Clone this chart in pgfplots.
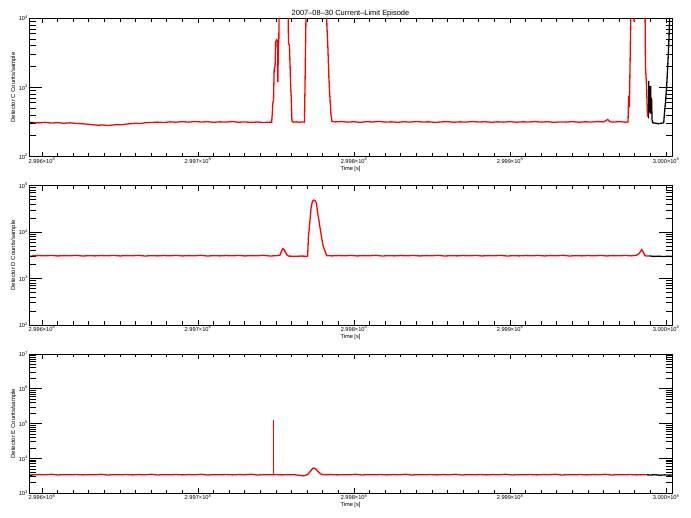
\documentclass[border=0pt]{standalone}
\usepackage{fontspec}
\setmainfont{Liberation Sans}
\usepackage{pgfplots}
\pgfplotsset{compat=1.18}
\newcommand{\tfont}{\fontsize{5.7}{6}\selectfont}
\newcommand{\xlabs}{2.996×10\textsuperscript{8},2.997×10\textsuperscript{8},2.998×10\textsuperscript{8},2.999×10\textsuperscript{8},3.000×10\textsuperscript{8}}
\begin{document}
\begin{tikzpicture}
\path[use as bounding box] (0bp,0bp) rectangle (691bp,518bp);
% ---------------- Top panel: Detector C
\begin{axis}[scale only axis, width=643bp, height=138.4bp, anchor=south west, at={(29bp,361.3bp)},
  xmin=-0.0833, xmax=4.038, ymode=log, ymin=100, ymax=10000,
  axis line style={line width=0.9bp},
  tick style={line width=0.8bp, black}, tick align=inside,
  xtick={0,1,2,3,4}, minor x tick num=9, xticklabels/.expand once=\xlabs,
  major tick length=13bp, minor tick length=6.5bp,
  xtick style={/pgfplots/major tick length=5bp, /pgfplots/minor tick length=3.5bp},
  xticklabel style={font=\tfont, inner sep=1bp},
  yticklabel style={font=\tfont, inner sep=1bp},
  xlabel={Time [s]}, xlabel style={font=\tfont, at={(axis description cs:0.5,-0.062)}, anchor=north, inner sep=0.5bp},
  ylabel style={font=\fontsize{6}{7}\selectfont, at={(axis description cs:-0.0241,0.5)}, anchor=center},
  ytick={100,1000,10000}, yticklabels={10\textsuperscript{2},10\textsuperscript{3},10\textsuperscript{4}},
  minor ytick={200,300,400,500,600,700,800,900,2000,3000,4000,5000,6000,7000,8000,9000},
  ylabel={Detector C Counts/sample},
  every axis title shift=0pt,
  title={2007–08–30 Current–Limit Episode},
  title style={font=\fontsize{7.5}{8}\selectfont, at={(axis description cs:0.5,1)}, anchor=south, inner sep=1bp}]
\addplot[black, line width=1.3bp] table {
-0.083 310
-0.058 312
};
\addplot[black, line width=1.3bp] table {
3.880 400
3.886 380
3.889 1250
3.892 500
3.895 950
3.898 420
3.901 1050
3.904 460
3.907 700
3.910 340
3.914 310
3.93 305
3.95 300
3.97 304
3.985 310
3.989 410
3.998 680
4.004 1070
4.011 2090
4.017 4170
4.021 7200
4.026 30000
4.038 30000
};
\addplot[red, line width=1.3bp] table {
-0.058 312
-0.02 308
0.02 314
0.06 306
0.10 311
0.14 304
0.18 309
0.22 302
0.26 299
0.30 294
0.33 289
0.36 285
0.39 287
0.42 282
0.45 286
0.48 291
0.51 289
0.54 296
0.57 300
0.60 304
0.63 301
0.66 309
0.70 312
0.74 316
0.78 311
0.82 319
0.86 315
0.90 321
0.94 316
0.98 322
1.02 317
1.06 320
1.10 314
1.14 319
1.18 316
1.22 322
1.26 315
1.30 318
1.34 313
1.38 317
1.42 312
1.46 316
1.472 314
1.476 420
1.479 600
1.484 640
1.488 1800
1.494 2100
1.498 4600
1.505 4900
1.510 4700
1.512 1200
1.515 4300
1.518 4800
1.521 30000
1.576 30000
1.580 4300
1.586 4100
1.590 2100
1.594 1000
1.598 680
1.602 330
1.61 315
1.63 319
1.65 314
1.67 318
1.682 316
1.685 800
1.690 5200
1.695 30000
1.822 30000
1.826 7800
1.832 4000
1.839 1350
1.846 680
1.852 410
1.858 325
1.88 318
1.92 322
1.96 316
2.00 320
2.04 314
2.08 321
2.12 317
2.16 323
2.20 316
2.24 319
2.28 314
2.32 320
2.36 316
2.40 322
2.44 317
2.48 319
2.52 313
2.56 318
2.60 321
2.64 315
2.68 319
2.72 316
2.76 322
2.80 317
2.84 320
2.88 314
2.92 319
2.96 316
3.00 321
3.04 315
3.08 319
3.12 317
3.16 322
3.20 316
3.24 320
3.28 314
3.32 318
3.36 316
3.40 321
3.44 315
3.48 319
3.52 317
3.56 322
3.60 318
3.626 345
3.64 320
3.66 316
3.70 321
3.74 315
3.756 318
3.760 760
3.765 520
3.771 4200
3.778 30000
3.792 30000
3.795 9000
3.799 30000
3.864 30000
3.868 2000
3.874 1120
3.881 390
3.886 380
};
\end{axis}
% ---------------- Middle panel: Detector D
\begin{axis}[scale only axis, width=643bp, height=139.3bp, anchor=south west, at={(29bp,193bp)},
  xmin=-0.0833, xmax=4.038, ymode=log, ymin=100, ymax=100000,
  axis line style={line width=0.9bp},
  tick style={line width=0.8bp, black}, tick align=inside,
  xtick={0,1,2,3,4}, minor x tick num=9, xticklabels/.expand once=\xlabs,
  major tick length=13bp, minor tick length=6.5bp,
  xtick style={/pgfplots/major tick length=5bp, /pgfplots/minor tick length=3.5bp},
  xticklabel style={font=\tfont, inner sep=1bp},
  yticklabel style={font=\tfont, inner sep=1bp},
  xlabel={Time [s]}, xlabel style={font=\tfont, at={(axis description cs:0.5,-0.062)}, anchor=north, inner sep=0.5bp},
  ylabel style={font=\fontsize{6}{7}\selectfont, at={(axis description cs:-0.0241,0.5)}, anchor=center},
  ytick={100,1000,10000,100000}, yticklabels={10\textsuperscript{2},10\textsuperscript{3},10\textsuperscript{4},10\textsuperscript{5}},
  minor ytick={200,300,400,500,600,700,800,900,2000,3000,4000,5000,6000,7000,8000,9000,20000,30000,40000,50000,60000,70000,80000,90000},
  ylabel={Detector D Counts/sample}]
\addplot[black, line width=1.3bp] table {
-0.083 3000
-0.058 3050
};
\addplot[black, line width=1.3bp] table {
3.893 3080
3.92 3000
3.95 3040
3.98 2980
4.01 3020
4.038 3000
};
\addplot[red, line width=1.3bp] table {
-0.058 3080
-0.02 3130
0.02 3090
0.06 3150
0.10 3070
0.14 3120
0.18 3100
0.22 3160
0.26 3060
0.30 3110
0.34 3080
0.38 3130
0.42 3090
0.46 3150
0.50 3070
0.54 3120
0.58 3100
0.62 3160
0.66 3060
0.70 3110
0.74 3080
0.78 3130
0.82 3090
0.86 3150
0.90 3070
0.94 3120
0.98 3100
1.02 3160
1.06 3060
1.10 3110
1.14 3080
1.18 3130
1.22 3090
1.26 3150
1.30 3070
1.34 3120
1.38 3100
1.42 3160
1.46 3060
1.50 3100
1.526 3200
1.535 3900
1.543 4400
1.552 4200
1.560 3700
1.571 3200
1.58 3050
1.62 3020
1.66 3050
1.70 3030
1.703 3100
1.707 7400
1.716 15500
1.724 32000
1.733 45700
1.742 49000
1.750 47900
1.759 41700
1.767 25700
1.776 17000
1.784 11200
1.793 7400
1.801 5200
1.810 4200
1.819 3500
1.825 3100
1.86 3080
1.90 3130
1.94 3090
1.98 3150
2.02 3070
2.06 3120
2.10 3100
2.14 3160
2.18 3060
2.22 3110
2.26 3080
2.30 3130
2.34 3090
2.38 3150
2.42 3070
2.46 3120
2.50 3100
2.54 3160
2.58 3060
2.62 3110
2.66 3080
2.70 3130
2.74 3090
2.78 3150
2.82 3070
2.86 3120
2.90 3100
2.94 3160
2.98 3060
3.02 3110
3.06 3080
3.10 3130
3.14 3090
3.18 3150
3.22 3070
3.26 3120
3.30 3100
3.34 3160
3.38 3060
3.42 3110
3.46 3080
3.50 3130
3.54 3090
3.58 3150
3.62 3070
3.66 3120
3.70 3100
3.74 3140
3.78 3080
3.812 3200
3.828 3500
3.844 4200
3.852 3800
3.865 3100
3.88 3050
3.893 3080
};
\end{axis}
% ---------------- Bottom panel: Detector E
\begin{axis}[scale only axis, width=643bp, height=139.3bp, anchor=south west, at={(29bp,24.7bp)},
  xmin=-0.0833, xmax=4.038, ymode=log, ymin=1000, ymax=10000000,
  axis line style={line width=0.9bp},
  tick style={line width=0.8bp, black}, tick align=inside,
  xtick={0,1,2,3,4}, minor x tick num=9, xticklabels/.expand once=\xlabs,
  major tick length=13bp, minor tick length=6.5bp,
  xtick style={/pgfplots/major tick length=5bp, /pgfplots/minor tick length=3.5bp},
  xticklabel style={font=\tfont, inner sep=1bp},
  yticklabel style={font=\tfont, inner sep=1bp},
  xlabel={Time [s]}, xlabel style={font=\tfont, at={(axis description cs:0.5,-0.062)}, anchor=north, inner sep=0.5bp},
  ylabel style={font=\fontsize{6}{7}\selectfont, at={(axis description cs:-0.0241,0.5)}, anchor=center},
  ytick={1000,10000,100000,1000000,10000000}, yticklabels={10\textsuperscript{3},10\textsuperscript{4},10\textsuperscript{5},10\textsuperscript{6},10\textsuperscript{7}},
  minor ytick={2000,3000,4000,5000,6000,7000,8000,9000,20000,30000,40000,50000,60000,70000,80000,90000,200000,300000,400000,500000,600000,700000,800000,900000,2000000,3000000,4000000,5000000,6000000,7000000,8000000,9000000},
  ylabel={Detector E Counts/sample}]
\addplot[black, line width=1.3bp] table {
-0.083 3300
-0.058 3350
};
\addplot[black, line width=1.3bp] table {
3.876 3400
3.90 3350
3.93 3420
3.96 3300
3.99 3380
4.02 3320
4.038 3350
};
\addplot[red, line width=1.3bp] table {
-0.058 3380
-0.02 3450
0.02 3400
0.06 3520
0.10 3360
0.14 3420
0.18 3400
0.22 3460
0.26 3380
0.30 3430
0.34 3400
0.38 3520
0.42 3360
0.46 3420
0.50 3400
0.54 3460
0.58 3380
0.62 3450
0.66 3400
0.70 3520
0.74 3360
0.78 3420
0.82 3400
0.86 3460
0.90 3380
0.94 3450
0.98 3400
1.02 3520
1.06 3360
1.10 3420
1.14 3400
1.18 3460
1.22 3380
1.26 3450
1.30 3400
1.34 3520
1.38 3360
1.42 3420
1.46 3400
1.481 3400
1.50 3450
1.54 3380
1.58 3430
1.62 3400
1.66 3250
1.675 3150
1.69 3300
1.707 3600
1.72 4300
1.735 5200
1.744 5300
1.755 5000
1.768 4300
1.78 3800
1.793 3500
1.81 3400
1.85 3450
1.89 3380
1.93 3430
1.97 3400
2.01 3520
2.05 3360
2.09 3420
2.13 3400
2.17 3460
2.21 3380
2.25 3450
2.29 3400
2.33 3520
2.37 3360
2.41 3420
2.45 3400
2.49 3460
2.53 3380
2.57 3450
2.61 3400
2.65 3520
2.69 3360
2.73 3420
2.77 3400
2.81 3460
2.85 3380
2.89 3450
2.93 3400
2.97 3520
3.01 3360
3.05 3420
3.09 3400
3.13 3460
3.17 3380
3.21 3450
3.25 3400
3.29 3520
3.33 3360
3.37 3420
3.41 3400
3.45 3460
3.49 3380
3.53 3450
3.57 3400
3.61 3520
3.65 3360
3.69 3420
3.73 3400
3.77 3460
3.81 3380
3.85 3450
3.876 3400
};
\addplot[red, line width=0.9bp] table {
1.481 3400
1.481 126000
};
\end{axis}
\end{tikzpicture}
\end{document}
